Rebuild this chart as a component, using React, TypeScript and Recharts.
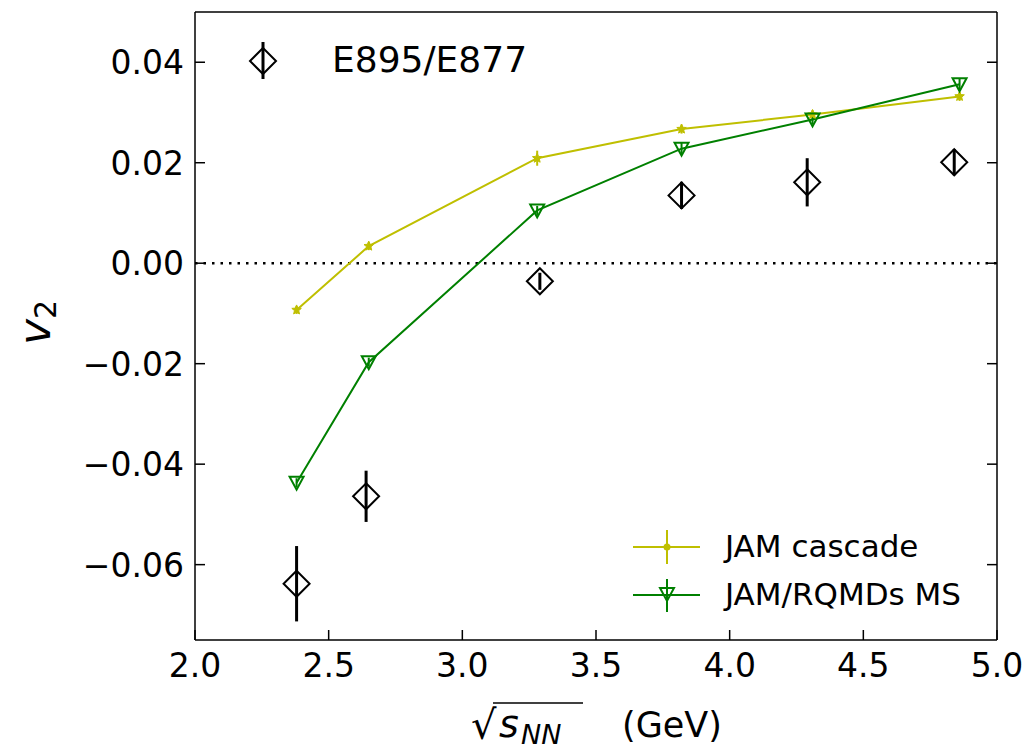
import {
  ComposedChart,
  Line,
  Scatter,
  XAxis,
  YAxis,
  ErrorBar,
  ReferenceLine,
  Legend,
  Label,
} from "recharts";

// model energies (sqrt(s_NN), GeV)
const energies = [2.38, 2.65, 3.28, 3.82, 4.31, 4.86];
const cascadeV2 = [-0.0093, 0.0034, 0.0209, 0.0267, 0.0296, 0.0332];
const cascadeErr = [0.0008, 0.0008, 0.0015, 0.0009, 0.0009, 0.0009];
const msV2 = [-0.0437, -0.0197, 0.0105, 0.0228, 0.0286, 0.0356];
const msErr = [0.0009, 0.0009, 0.0009, 0.0012, 0.0009, 0.0012];

// E895/E877 data
const expEnergies = [2.38, 2.64, 3.29, 3.82, 4.29, 4.84];
const expV2 = [-0.0638, -0.0464, -0.0036, 0.0135, 0.0161, 0.0201];
const expErr = [0.0075, 0.0051, 0.0017, 0.0027, 0.0048, 0.0026];

const xTicks = [2.0, 2.5, 3.0, 3.5, 4.0, 4.5, 5.0];
const yTicks = [-0.06, -0.04, -0.02, 0.0, 0.02, 0.04];

const YELLOW = "#bfbf00";
const GREEN = "#008000";
const FONT = "DejaVu Sans, Verdana, sans-serif";

const cascade = energies.map((x, i) => ({ x, y: cascadeV2[i], err: cascadeErr[i] }));
const ms = energies.map((x, i) => ({ x, y: msV2[i], err: msErr[i] }));
const exp = expEnergies.map((x, i) => ({ x, y: expV2[i], err: expErr[i] }));

const fmtY = (v: number) => (v < 0 ? "\u2212" + Math.abs(v).toFixed(2) : v.toFixed(2));

function starPath(cx: number, cy: number, r: number) {
  const pts: string[] = [];
  for (let k = 0; k < 10; k++) {
    const a = -Math.PI / 2 + (k * Math.PI) / 5;
    const rr = k % 2 === 0 ? r : r * 0.45;
    pts.push(`${cx + rr * Math.cos(a)},${cy + rr * Math.sin(a)}`);
  }
  return "M" + pts.join("L") + "Z";
}

function Star(props: any) {
  const { cx, cy } = props;
  if (cx == null || cy == null) return <g key={props.index} />;
  return <path key={props.index} d={starPath(cx, cy, 5)} fill={YELLOW} stroke={YELLOW} strokeWidth={1} />;
}

function TriDown(props: any) {
  const { cx, cy } = props;
  if (cx == null || cy == null) return <g key={props.index} />;
  return (
    <path
      key={props.index}
      d={`M${cx - 7},${cy - 6}L${cx + 7},${cy - 6}L${cx},${cy + 7}Z`}
      fill="none"
      stroke={GREEN}
      strokeWidth={2}
    />
  );
}

function Diamond(props: any) {
  const { cx, cy } = props;
  const r = 13;
  return (
    <path
      d={`M${cx},${cy - r}L${cx + r},${cy}L${cx},${cy + r}L${cx - r},${cy}Z`}
      fill="none"
      stroke="#000"
      strokeWidth={2}
    />
  );
}

function XTick(props: any) {
  const { x, y, payload } = props;
  return (
    <g>
      <line x1={x} y1={y} x2={x} y2={y - 10} stroke="#000" strokeWidth={1.5} />
      <text x={x} y={y + 37} textAnchor="middle" fontFamily={FONT} fontSize={33} fill="#000">
        {payload.value.toFixed(1)}
      </text>
    </g>
  );
}

function YTickLeft(props: any) {
  const { x, y, payload } = props;
  return (
    <g>
      <line x1={x} y1={y} x2={x + 10} y2={y} stroke="#000" strokeWidth={1.5} />
      <text x={x - 11} y={y + 12} textAnchor="end" fontFamily={FONT} fontSize={33} fill="#000">
        {fmtY(payload.value)}
      </text>
    </g>
  );
}

function YTickRight(props: any) {
  const { x, y } = props;
  return <line x1={x} y1={y} x2={x - 10} y2={y} stroke="#000" strokeWidth={1.5} />;
}

function XTitle(props: any) {
  const vb = props.viewBox;
  const cx = vb.x + vb.width / 2;
  const base = vb.y + 97;
  return (
    <g fontFamily={FONT} fill="#000">
      <text x={cx - 125} y={base + 2} fontSize={40}>
        {"\u221A"}
      </text>
      <text x={cx - 97} y={base} fontSize={38} fontStyle="italic">
        s
      </text>
      <text x={cx - 75} y={base + 7} fontSize={27} fontStyle="italic">
        NN
      </text>
      <text x={cx + 26} y={base} fontSize={35}>
        (GeV)
      </text>
      <line x1={cx - 103} y1={base - 34} x2={cx - 13} y2={base - 34} stroke="#000" strokeWidth={1.5} />
    </g>
  );
}

function YTitle() {
  return (
    <text transform="translate(50,345) rotate(-90)" fontFamily={FONT} fill="#000">
      <tspan fontStyle="italic" fontSize={44}>
        v
      </tspan>
      <tspan fontSize={30} dy={6}>
        2
      </tspan>
    </text>
  );
}

function LegendBox() {
  return (
    <svg width={1032} height={750} style={{ position: "absolute", left: 0, top: 0, overflow: "visible" }}>
      {/* E895/E877 */}
      <line x1={263} y1={42} x2={263} y2={79} stroke="#000" strokeWidth={3} />
      <Diamond cx={263} cy={61} />
      <text x={332} y={72} fontFamily={FONT} fontSize={36} fill="#000">
        E895/E877
      </text>
      {/* JAM cascade */}
      <line x1={633} y1={547} x2={700} y2={547} stroke={YELLOW} strokeWidth={2} />
      <line x1={667} y1={530} x2={667} y2={564} stroke={YELLOW} strokeWidth={2} />
      <circle cx={667} cy={547} r={3.5} fill={YELLOW} />
      <text x={725} y={557} fontFamily={FONT} fontSize={31} fill="#000">
        JAM cascade
      </text>
      {/* JAM/RQMDs MS */}
      <line x1={633} y1={595} x2={700} y2={595} stroke={GREEN} strokeWidth={2} />
      <line x1={667} y1={579} x2={667} y2={612} stroke={GREEN} strokeWidth={2} />
      <TriDown cx={667} cy={594} />
      <text x={725} y={605} fontFamily={FONT} fontSize={31} fill="#000">
        JAM/RQMDs MS
      </text>
    </svg>
  );
}

export default function App() {
  return (
    <div style={{ position: "absolute", left: 0, top: 0, width: 1032, height: 750, background: "#fff" }}>
      <ComposedChart width={1032} height={750} margin={{ top: 12, right: 25, bottom: 50, left: 75 }}>
        <XAxis
          type="number"
          dataKey="x"
          domain={[2, 5]}
          ticks={xTicks}
          interval={0}
          allowDataOverflow
          height={60}
          tickSize={0}
          tickMargin={0}
          tickLine={false}
          axisLine={{ stroke: "#000", strokeWidth: 1.5 }}
          tick={XTick}
        >
          <Label content={XTitle} />
        </XAxis>
        <YAxis
          yAxisId="left"
          type="number"
          domain={[-0.075, 0.05]}
          ticks={yTicks}
          interval={0}
          allowDataOverflow
          width={120}
          tickSize={0}
          tickMargin={0}
          tickLine={false}
          axisLine={{ stroke: "#000", strokeWidth: 1.5 }}
          tick={YTickLeft}
        >
          <Label content={YTitle} />
        </YAxis>
        <YAxis
          yAxisId="right"
          orientation="right"
          type="number"
          domain={[-0.075, 0.05]}
          ticks={yTicks}
          interval={0}
          allowDataOverflow
          width={10}
          tickSize={0}
          tickMargin={0}
          tickLine={false}
          axisLine={{ stroke: "#000", strokeWidth: 1.5 }}
          tick={YTickRight}
        />
        <ReferenceLine yAxisId="left" y={0.05} stroke="#000" strokeWidth={1.5} />
        <ReferenceLine yAxisId="left" y={0} stroke="#000" strokeWidth={2.5} strokeDasharray="2.5 6" />
        <Line
          yAxisId="left"
          data={cascade}
          dataKey="y"
          stroke={YELLOW}
          strokeWidth={2}
          dot={Star}
          activeDot={false}
          isAnimationActive={false}
        >
          <ErrorBar dataKey="err" direction="y" width={0} stroke={YELLOW} strokeWidth={2} />
        </Line>
        <Line
          yAxisId="left"
          data={ms}
          dataKey="y"
          stroke={GREEN}
          strokeWidth={2}
          dot={TriDown}
          activeDot={false}
          isAnimationActive={false}
        >
          <ErrorBar dataKey="err" direction="y" width={0} stroke={GREEN} strokeWidth={2} />
        </Line>
        <Scatter yAxisId="left" data={exp} dataKey="y" shape={Diamond} isAnimationActive={false}>
          <ErrorBar dataKey="err" direction="y" width={0} stroke="#000" strokeWidth={3} />
        </Scatter>
        <Legend
          content={LegendBox}
          wrapperStyle={{ position: "absolute", left: 0, top: 0, width: 0, height: 0, overflow: "visible" }}
        />
      </ComposedChart>
    </div>
  );
}
